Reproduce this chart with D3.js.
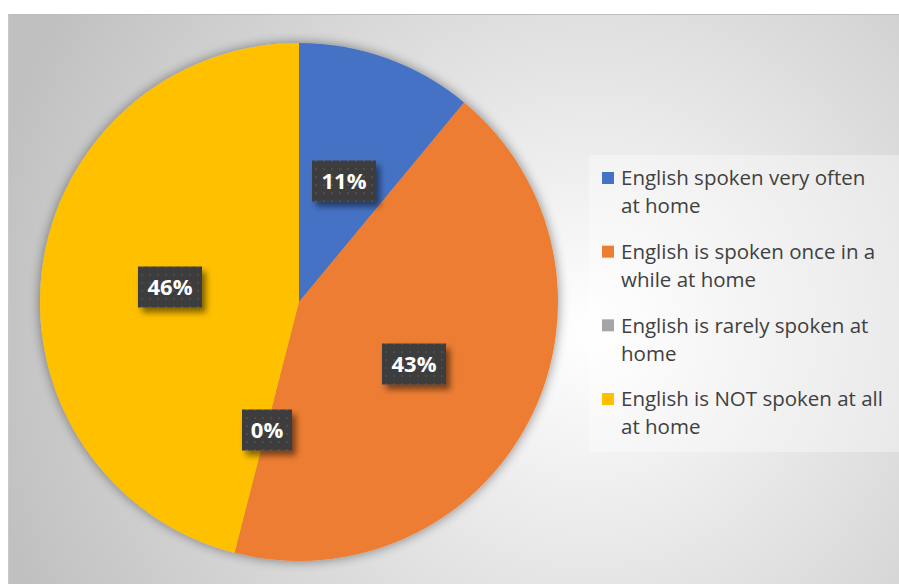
<!DOCTYPE html>
<html><head><meta charset="utf-8">
<script src="https://cdn.jsdelivr.net/npm/d3@7"></script>
<style>html,body{margin:0;padding:0;background:#fff;overflow:hidden}</style>
</head><body>
<svg id="c" width="899" height="584"></svg>
<script>
const categories = ["English spoken very often at home","English is spoken once in a while at home","English is rarely spoken at home","English is NOT spoken at all at home"];
const values = [11, 43, 0, 46];
const labels = ["11%","43%","0%","46%"];
const colors = ["#4472C4","#ED7D31","#A5A5A5","#FFC000"];
const legendLines = [["English spoken very often","at home"],["English is spoken once in a","while at home"],["English is rarely spoken at","home"],["English is NOT spoken at all","at home"]];

const svg = d3.select("#c");
const defs = svg.append("defs");
const rg = defs.append("radialGradient").attr("id","bg").attr("gradientUnits","userSpaceOnUse")
  .attr("cx",590).attr("cy",330).attr("r",620);
rg.append("stop").attr("offset","0").attr("stop-color","#ffffff");
rg.append("stop").attr("offset","1").attr("stop-color","#c0c0c0");
const sh = defs.append("filter").attr("id","sh").attr("x","-20%").attr("y","-20%").attr("width","140%").attr("height","140%");
sh.append("feGaussianBlur").attr("in","SourceAlpha").attr("stdDeviation",6);
sh.append("feOffset").attr("dx",0).attr("dy",0).attr("result","b");
sh.append("feComponentTransfer").append("feFuncA").attr("type","linear").attr("slope",0.45);
const m1 = sh.append("feMerge"); m1.append("feMergeNode"); m1.append("feMergeNode").attr("in","SourceGraphic");
const sh2 = defs.append("filter").attr("id","sh2").attr("x","-30%").attr("y","-30%").attr("width","170%").attr("height","170%");
sh2.append("feGaussianBlur").attr("in","SourceAlpha").attr("stdDeviation",3);
sh2.append("feOffset").attr("dx",4).attr("dy",5);
sh2.append("feComponentTransfer").append("feFuncA").attr("type","linear").attr("slope",0.5);
const m2 = sh2.append("feMerge"); m2.append("feMergeNode"); m2.append("feMergeNode").attr("in","SourceGraphic");
const pat = defs.append("pattern").attr("id","dots").attr("patternUnits","userSpaceOnUse").attr("width",8).attr("height",8);
pat.append("rect").attr("width",8).attr("height",8).attr("fill","#3c3c3c");
pat.append("circle").attr("cx",4).attr("cy",4).attr("r",1.2).attr("fill","#4e4e4e");

svg.append("rect").attr("x",8).attr("y",14).attr("width",891).attr("height",570).attr("fill","url(#bg)");
svg.append("line").attr("x1",8).attr("x2",899).attr("y1",14.5).attr("y2",14.5).attr("stroke","#bdbdbd");
svg.append("line").attr("x1",8.5).attr("x2",8.5).attr("y1",14).attr("y2",584).attr("stroke","#c8c8c8");

const cx = 299, cy = 302, R = 259;
const pie = d3.pie().sort(null).value(d=>d)(values);
const arc = d3.arc().innerRadius(0).outerRadius(R);
const g = svg.append("g").attr("transform",`translate(${cx},${cy})`);
g.append("g").attr("filter","url(#sh)").selectAll("path").data(pie).join("path")
  .attr("d",arc).attr("fill",(d,i)=>colors[i]);

const lblPos = [[45,-121],[115,62],[-32,128],[-129,-15]];
const lg = g.selectAll("g.lbl").data(pie).join("g").attr("class","lbl")
  .attr("transform",(d,i)=>`translate(${lblPos[i][0]},${lblPos[i][1]})`);
lg.append("rect").attr("x",(d,i)=>labels[i].length>2?-32:-25).attr("y",-20.5)
  .attr("width",(d,i)=>labels[i].length>2?64:50).attr("height",41).attr("fill","url(#dots)").attr("filter","url(#sh2)");
lg.append("text").attr("text-anchor","middle").attr("dy","0.36em").attr("fill","#fff")
  .attr("font-family","'Open Sans', sans-serif").attr("font-weight","bold").attr("font-size",22)
  .text((d,i)=>labels[i]);

const leg = svg.append("g");
leg.append("rect").attr("x",589).attr("y",155).attr("width",310).attr("height",297).attr("fill","#fff").attr("opacity",0.35);
const y = d3.scalePoint().domain(d3.range(categories.length)).range([178,399]);
const items = leg.selectAll("g.it").data(categories).join("g").attr("class","it")
  .attr("transform",(d,i)=>`translate(602,${y(i)})`);
items.append("rect").attr("x",0).attr("y",-6).attr("width",12).attr("height",12).attr("fill",(d,i)=>colors[i]);
items.each(function(d,i){
  const t = d3.select(this).append("text").attr("x",19).attr("fill","#404040")
    .attr("font-family","'Open Sans', sans-serif").attr("font-size",20.5);
  legendLines[i].forEach((ln,j)=>t.append("tspan").attr("x",19).attr("y",j*28).attr("dy","0.35em").text(ln));
});
</script>
</body></html>
